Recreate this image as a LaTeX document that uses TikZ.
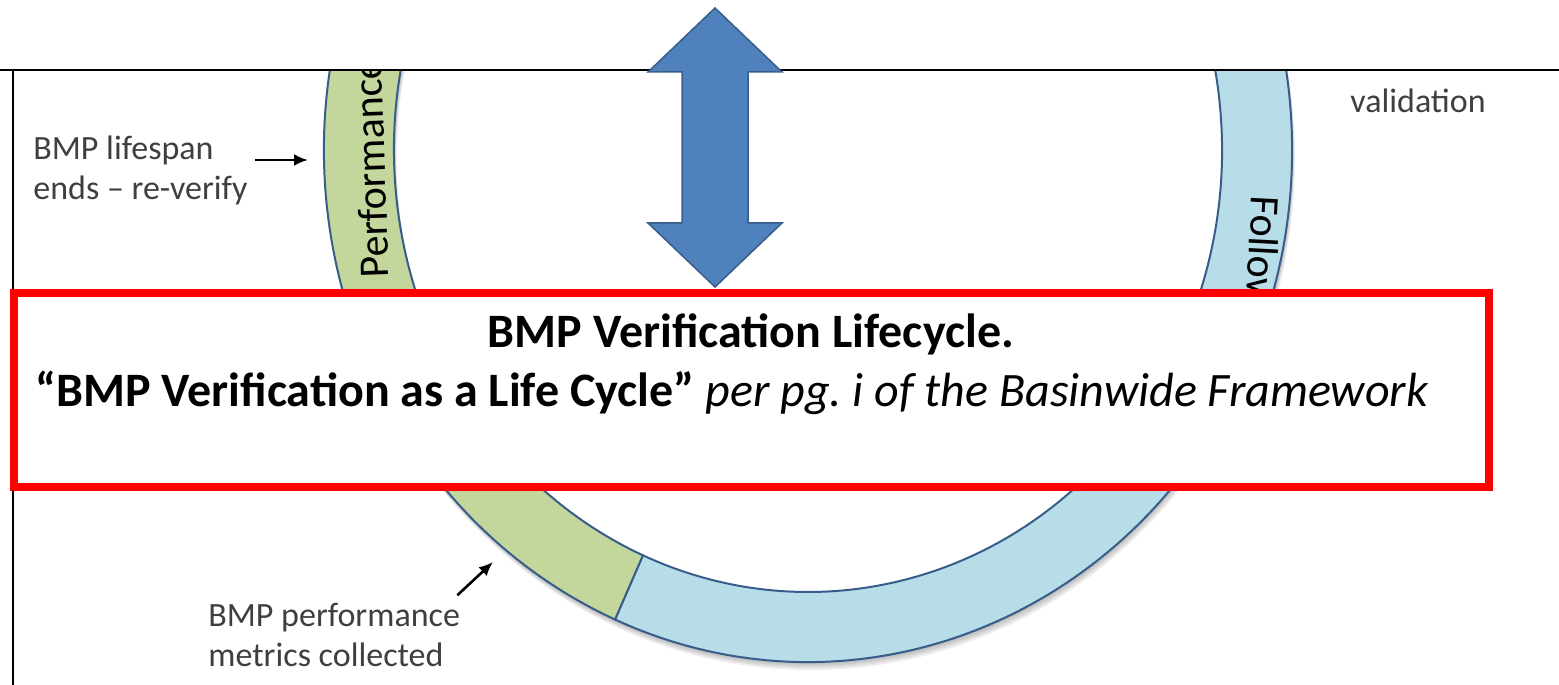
\documentclass[tikz,border=0pt]{standalone}
\usepackage{fontspec}
\setmainfont{Carlito}
\usepackage{xcolor}
\usetikzlibrary{arrows.meta}
\definecolor{ringGreen}{HTML}{C3D69B}
\definecolor{ringBlue}{HTML}{B7DDE8}
\definecolor{ringEdge}{HTML}{385D8A}
\definecolor{arrowBlue}{HTML}{4F81BD}
\definecolor{labelGray}{HTML}{3F3F3F}
\frenchspacing

\begin{document}
\begin{tikzpicture}
[x=0.5pt, y=0.5pt,
 lineDecorate/.style={-{Latex[length=7pt,width=6pt]},line width=1.3pt,black},
 ringDecorate/.style={draw=ringEdge,line width=1pt},
 labelDecorate/.style={inner sep=0pt,align=left,text=labelGray,font=\fontsize{17}{20}\selectfont},
 ringText/.style={inner sep=0pt,font=\fontsize{21}{24}\selectfont},
 boxText/.style={inner sep=0pt,font=\fontsize{24}{28}\selectfont},
 titleText/.style={inner sep=0pt,font=\fontsize{24}{28}\selectfont\bfseries}]

\useasboundingbox (0,0) rectangle (1559,685);

\begin{scope}
 \clip (13,0) rectangle (1559,615);
 \begin{scope}[shift={(808,535)}]
  \foreach \s in {1,2,3,4}
  {
   \fill[black,opacity=0.07,even odd rule,shift={(0.7*\s,-2*\s)}]
     (0,0) ellipse [x radius=484,y radius=512] (0,0) ellipse [x radius=414,y radius=442];
  }
  \filldraw[ringDecorate,fill=ringBlue] (246.5:484 and 512)
    arc[start angle=246.5,end angle=460,x radius=484,y radius=512]
    -- (100:414 and 442)
    arc[start angle=460,end angle=246.5,x radius=414,y radius=442] -- cycle;
  \filldraw[ringDecorate,fill=ringGreen] (246.5:484 and 512)
    arc[start angle=246.5,end angle=100,x radius=484,y radius=512]
    -- (100:414 and 442)
    arc[start angle=100,end angle=246.5,x radius=414,y radius=442] -- cycle;
 \end{scope}
 \node (perfText) [ringText,rotate=92,anchor=base west] at (389,407) {Performance};
 \node (followText) [ringText,rotate=-93,anchor=base west] at (1252,490) {Follow};
\end{scope}

\draw[line width=1pt] (0,615) -- (1559,615);
\draw[line width=1pt] (13,615) -- (13,0);

\draw[red,line width=4pt,fill=white] (14,198) rectangle (1489,392);
\node (titleLine) [titleText,anchor=base] at (751,337) {BMP Verification Lifecycle.};
\node (sourceLine) [boxText,anchor=base west] at (35,278)
  {\textbf{“BMP Verification as a Life Cycle”} \textit{per pg. i of the Basinwide Framework}};

\filldraw[draw=ringEdge,fill=arrowBlue,line width=0.75pt]
  (715,677) -- (782,613) -- (748,613) -- (748,462) -- (782,462) -- (715,398)
  -- (648,462) -- (682,462) -- (682,613) -- (648,613) -- cycle;

\node (lifeLabel) [labelDecorate,anchor=base west] at (33,485) {BMP lifespan\\ends – re-verify};
\node (validLabel) [labelDecorate,anchor=base west] at (1350,572) {validation};
\node (metricLabel) [labelDecorate,anchor=base west] at (208,18) {BMP performance\\metrics collected};

\coordinate (lifeTip) at (308,525);
\coordinate (metricTip) at (493,123);
\draw[lineDecorate,shorten <=3.5pt] (lifeLabel.east |- lifeTip) -- (lifeTip);
\draw[lineDecorate] (metricLabel.north east) ++(-3,8) -- (metricTip);
\end{tikzpicture}
\end{document}
